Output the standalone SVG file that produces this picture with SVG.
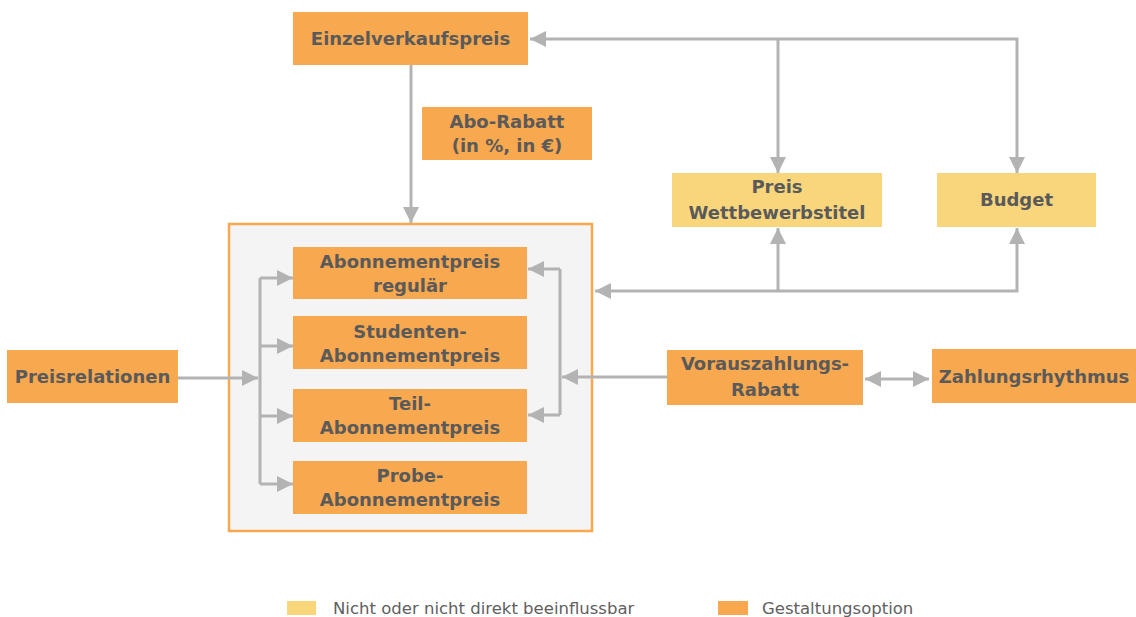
<svg xmlns="http://www.w3.org/2000/svg" width="1136" height="617" viewBox="0 0 1136 617">
<style>
.o{fill:#f8a84e}
.y{fill:#f9d67c}
.t{font-family:"DejaVu Sans","Liberation Sans",sans-serif;font-weight:bold;font-size:18px;fill:#5a5a5a;text-anchor:middle}
.l{font-family:"DejaVu Sans","Liberation Sans",sans-serif;font-size:16.5px;fill:#606060}
.c{fill:none;stroke:#b3b3b3;stroke-width:3}
</style>
<defs>
<marker id="a" markerUnits="userSpaceOnUse" markerWidth="17" markerHeight="17" refX="16" refY="8" orient="auto-start-reverse" viewBox="0 0 17 17">
<path d="M0,0 L16,8 L0,16 z" fill="#b3b3b3"/>
</marker>
</defs>
<rect width="1136" height="617" fill="#ffffff"/>
<g id="container">
<rect x="229" y="224" width="363" height="307" fill="#f4f4f4" stroke="#f8a84e" stroke-width="2.5"/>
</g>
<g id="connectors">
<path class="c" d="M411,65 L411,223" marker-end="url(#a)"/>
<path class="c" d="M1017,173 L1017,39 L530,39" marker-start="url(#a)" marker-end="url(#a)"/>
<path class="c" d="M778,39 L778,173" marker-end="url(#a)"/>
<path class="c" d="M1017,228 L1017,291 L595,291" marker-start="url(#a)" marker-end="url(#a)"/>
<path class="c" d="M778,291 L778,228" marker-end="url(#a)"/>
<path class="c" d="M178,378 L258,378" marker-end="url(#a)"/>
<path class="c" d="M260,278 L260,484"/>
<path class="c" d="M260,278 L293,278" marker-end="url(#a)"/>
<path class="c" d="M260,346 L293,346" marker-end="url(#a)"/>
<path class="c" d="M260,416 L293,416" marker-end="url(#a)"/>
<path class="c" d="M260,484 L293,484" marker-end="url(#a)"/>
<path class="c" d="M560,269 L560,415"/>
<path class="c" d="M560,269 L528,269" marker-end="url(#a)"/>
<path class="c" d="M560,415 L528,415" marker-end="url(#a)"/>
<path class="c" d="M667,377 L562,377" marker-end="url(#a)"/>
<path class="c" d="M865,379 L929,379" marker-start="url(#a)" marker-end="url(#a)"/>
</g>
<g id="einzelverkaufspreis">
<rect class="o" x="293" y="12" width="235" height="53"/>
<text class="t" x="410.5" y="45">Einzelverkaufspreis</text>
</g>
<g id="abo-rabatt">
<rect class="o" x="422" y="107" width="170" height="53"/>
<text class="t" x="507" y="128">Abo-Rabatt</text>
<text class="t" x="507" y="152">(in %, in €)</text>
</g>
<g id="preis-wettbewerbstitel">
<rect class="y" x="672" y="173" width="210" height="54"/>
<text class="t" x="777" y="193">Preis</text>
<text class="t" x="777" y="219">Wettbewerbstitel</text>
</g>
<g id="budget">
<rect class="y" x="937" y="173" width="159" height="54"/>
<text class="t" x="1016.5" y="206">Budget</text>
</g>
<g id="abonnementpreis-regulaer">
<rect class="o" x="293" y="247" width="234" height="52"/>
<text class="t" x="410" y="268">Abonnementpreis</text>
<text class="t" x="410" y="292">regulär</text>
</g>
<g id="studenten-abonnementpreis">
<rect class="o" x="293" y="316" width="234" height="53"/>
<text class="t" x="410" y="337.5">Studenten-</text>
<text class="t" x="410" y="361.5">Abonnementpreis</text>
</g>
<g id="teil-abonnementpreis">
<rect class="o" x="293" y="389" width="234" height="53"/>
<text class="t" x="410" y="410">Teil-</text>
<text class="t" x="410" y="434">Abonnementpreis</text>
</g>
<g id="probe-abonnementpreis">
<rect class="o" x="293" y="461" width="234" height="53"/>
<text class="t" x="410" y="482">Probe-</text>
<text class="t" x="410" y="506">Abonnementpreis</text>
</g>
<g id="preisrelationen">
<rect class="o" x="7" y="350" width="171" height="53"/>
<text class="t" x="92.5" y="383">Preisrelationen</text>
</g>
<g id="vorauszahlungs-rabatt">
<rect class="o" x="667" y="350" width="196" height="55"/>
<text class="t" x="765" y="370">Vorauszahlungs-</text>
<text class="t" x="765" y="396">Rabatt</text>
</g>
<g id="zahlungsrhythmus">
<rect class="o" x="932" y="349" width="204" height="54"/>
<text class="t" x="1034" y="383">Zahlungsrhythmus</text>
</g>
<g id="legend">
<rect class="y" x="287" y="601" width="29" height="14"/>
<text class="l" x="333" y="614">Nicht oder nicht direkt beeinflussbar</text>
<rect class="o" x="718" y="601" width="30" height="14"/>
<text class="l" x="762" y="614">Gestaltungsoption</text>
</g>
</svg>
